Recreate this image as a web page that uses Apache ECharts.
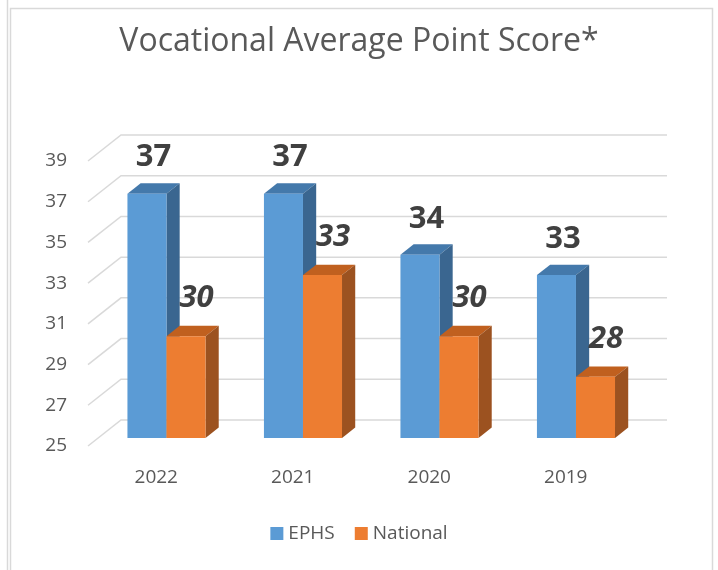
<!DOCTYPE html>
<html>
<head>
<meta charset="utf-8">
<script src="https://cdn.jsdelivr.net/npm/echarts@6/dist/echarts.min.js"></script>
<style>
  html, body { margin: 0; padding: 0; background: #fff; }
  #main { width: 718px; height: 570px; }
</style>
</head>
<body>
<div id="main"></div>
<script>
  // data
  var years = ['2022', '2021', '2020', '2019'];
  var ephs = [37, 37, 34, 33];
  var national = [30, 33, 30, 28];
  var yTicks = [25, 27, 29, 31, 33, 35, 37, 39];

  // 3d look: depth of the back wall, and where the bars sit in it
  var DX = 33, DY = -26;
  var F0 = 0.31, FD = 0.40;

  var chart = echarts.init(document.getElementById('main'));

  // back wall + the diagonal floor/grid lines
  function renderWall(params, api) {
    var cs = params.coordSys;
    var y = api.coord([0, api.value(0)])[1];
    return {
      type: 'polyline',
      shape: { points: [[cs.x, y], [cs.x + DX, y + DY], [cs.x + cs.width + DX, y + DY]] },
      style: { stroke: '#d9d9d9', lineWidth: 1.5, fill: null },
      silent: true
    };
  }

  function makeBar(colors, side, italic) {
    return function (params, api) {
      var idx = api.value(0), v = api.value(1);
      var top = api.coord([idx, v]);
      var base = api.coord([idx, 25]);
      var band = api.size([1, 0])[0];
      var w = band * 0.286;
      var ox = DX * F0, oy = DY * F0;
      var dx = DX * FD, dy = DY * FD;
      var x0 = side < 0 ? top[0] - w : top[0];
      x0 += ox;
      var x1 = x0 + w;
      var yt = top[1] + oy, yb = base[1] + oy;
      return {
        type: 'group',
        children: [
          { type: 'polygon', shape: { points: [[x0, yt], [x1, yt], [x1 + dx, yt + dy], [x0 + dx, yt + dy]] },
            style: { fill: colors[1] } },
          { type: 'polygon', shape: { points: [[x1, yt], [x1 + dx, yt + dy], [x1 + dx, yb + dy], [x1, yb]] },
            style: { fill: colors[2] } },
          { type: 'rect', shape: { x: x0, y: yt, width: w, height: yb - yt },
            style: { fill: colors[0] } },
          { type: 'text', x: (x0 + x1 + dx) / 2 + (italic ? 4 : 0), y: yt - (italic ? 38 : 36),
            style: { text: String(v), fill: '#404040', font: (italic ? 'italic ' : '') + 'bold 31px "Open Sans"',
              align: 'center', verticalAlign: 'middle' } }
        ]
      };
    };
  }

  var option = {
    backgroundColor: '#fff',
    textStyle: { fontFamily: 'Open Sans' },
    title: {
      text: 'Vocational Average Point Score*',
      left: 'center',
      top: 21,
      textStyle: { fontSize: 32, fontWeight: 'normal', color: '#595959', fontFamily: 'Open Sans' }
    },
    graphic: [
      { type: 'line', shape: { x1: 7.5, y1: 0, x2: 7.5, y2: 570 }, style: { stroke: '#d9d9d9', lineWidth: 1.5 }, silent: true },
      { type: 'rect', shape: { x: 10.5, y: 8.5, width: 702, height: 580 }, style: { stroke: '#d9d9d9', lineWidth: 1.5, fill: null }, silent: true }
    ],
    legend: {
      bottom: 22,
      left: 'center',
      icon: 'rect',
      itemWidth: 13,
      itemHeight: 13,
      itemGap: 20,
      textStyle: { fontSize: 19, color: '#595959' },
      data: ['EPHS', 'National']
    },
    grid: { left: 88, right: 84, top: 161, bottom: 124 },
    xAxis: {
      type: 'category',
      data: years,
      axisLine: { show: false },
      axisTick: { show: false },
      axisLabel: { fontSize: 19, color: '#595959', margin: 22 }
    },
    yAxis: {
      type: 'value',
      min: 25,
      max: 39,
      interval: 2,
      axisLine: { show: false },
      axisTick: { show: false },
      splitLine: { show: false },
      axisLabel: { fontSize: 19, color: '#595959', margin: 21 }
    },
    series: [
      {
        name: 'walls',
        type: 'custom',
        renderItem: renderWall,
        data: yTicks.map(function (t) { return [t]; }),
        encode: { y: 0 },
        silent: true,
        z: 1
      },
      {
        name: 'EPHS',
        type: 'custom',
        itemStyle: { color: '#5b9bd5' },
        renderItem: makeBar(['#5b9bd5', '#4479ab', '#3a6690'], -1, false),
        data: ephs.map(function (v, i) { return [i, v]; }),
        encode: { x: 0, y: 1 },
        z: 3
      },
      {
        name: 'National',
        type: 'custom',
        itemStyle: { color: '#ed7d31' },
        renderItem: makeBar(['#ed7d31', '#c0601f', '#9c5220'], 1, true),
        data: national.map(function (v, i) { return [i, v]; }),
        encode: { x: 0, y: 1 },
        z: 3
      }
    ]
  };
  chart.setOption(option);
</script>
</body>
</html>
